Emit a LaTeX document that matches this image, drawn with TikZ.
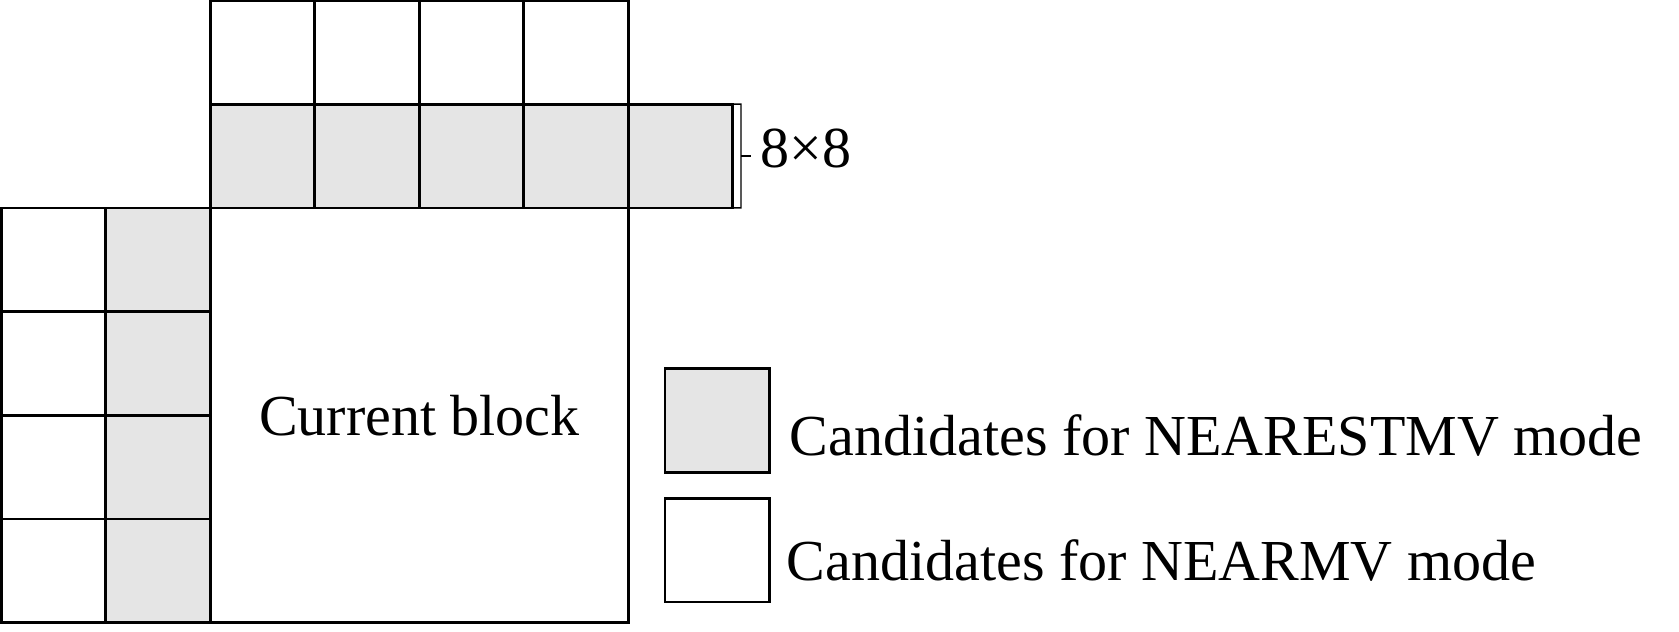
\documentclass[tikz,border=0pt]{standalone}
\usepackage{fontspec}
\setmainfont{Liberation Serif}
\usepackage{tikz}

\begin{document}
\begin{tikzpicture}[
            x=1cm, y=0.9923cm,
            every node/.style={font=\fontsize{15.8}{19}\selectfont}, % Serif text everywhere
            cell/.style={rectangle, draw, line width=0.75pt, minimum width=1cm, minimum height=0.9923cm, inner sep=0pt, outer sep=0pt}, % One 8x8 block
            nearcell/.style={cell, fill=white}, % NEARMV candidate
            nearestcell/.style={cell, fill=gray!20}, % NEARESTMV candidate
            label/.style={anchor=base west, inner sep=0pt}
            ]

        \useasboundingbox (-0.0129,-0.0897) rectangle (16.054,6.0048);

        % Current block
        \node[cell, minimum width=4cm, minimum height=3.9692cm] (cur) at (4,2) {Current block};

        % Upper row (NEARMV)
        \node[nearcell] (t1) at (2.5,5.5) {};
        \node[nearcell] (t2) at (3.5,5.5) {};
        \node[nearcell] (t3) at (4.5,5.5) {};
        \node[nearcell] (t4) at (5.5,5.5) {};

        % Row just above (NEARESTMV)
        \node[nearestcell] (a1) at (2.5,4.5) {};
        \node[nearestcell] (a2) at (3.5,4.5) {};
        \node[nearestcell] (a3) at (4.5,4.5) {};
        \node[nearestcell] (a4) at (5.5,4.5) {};
        \node[nearestcell] (a5) at (6.5,4.5) {};

        % Outer left column (NEARMV)
        \node[nearcell] (l1) at (0.5,3.5) {};
        \node[nearcell] (l2) at (0.5,2.5) {};
        \node[nearcell] (l3) at (0.5,1.5) {};
        \node[nearcell] (l4) at (0.5,0.5) {};

        % Column just left (NEARESTMV)
        \node[nearestcell] (b1) at (1.5,3.5) {};
        \node[nearestcell] (b2) at (1.5,2.5) {};
        \node[nearestcell] (b3) at (1.5,1.5) {};
        \node[nearestcell] (b4) at (1.5,0.5) {};

        % Block size bracket
        \draw[line width=0.4pt] (a5.north east) -- ++(0.078,0) -- ++(0,-1) -- (a5.south east);
        \draw[line width=0.4pt] ([xshift=0.078cm]a5.east) -- ++(0.1,0);
        \node[label] (size) at (7.26,4.385) {8×8};

        % Legend
        \node[nearestcell] (keyest) at (6.85,1.95) {};
        \node[nearcell] (keynear) at (6.85,0.70) {};
        \node[label] (txtest) at (7.538,1.617) {Candidates for NEARESTMV mode};
        \node[label] (txtnear) at (7.51,0.402) {Candidates for NEARMV mode};

\end{tikzpicture}
\end{document}
